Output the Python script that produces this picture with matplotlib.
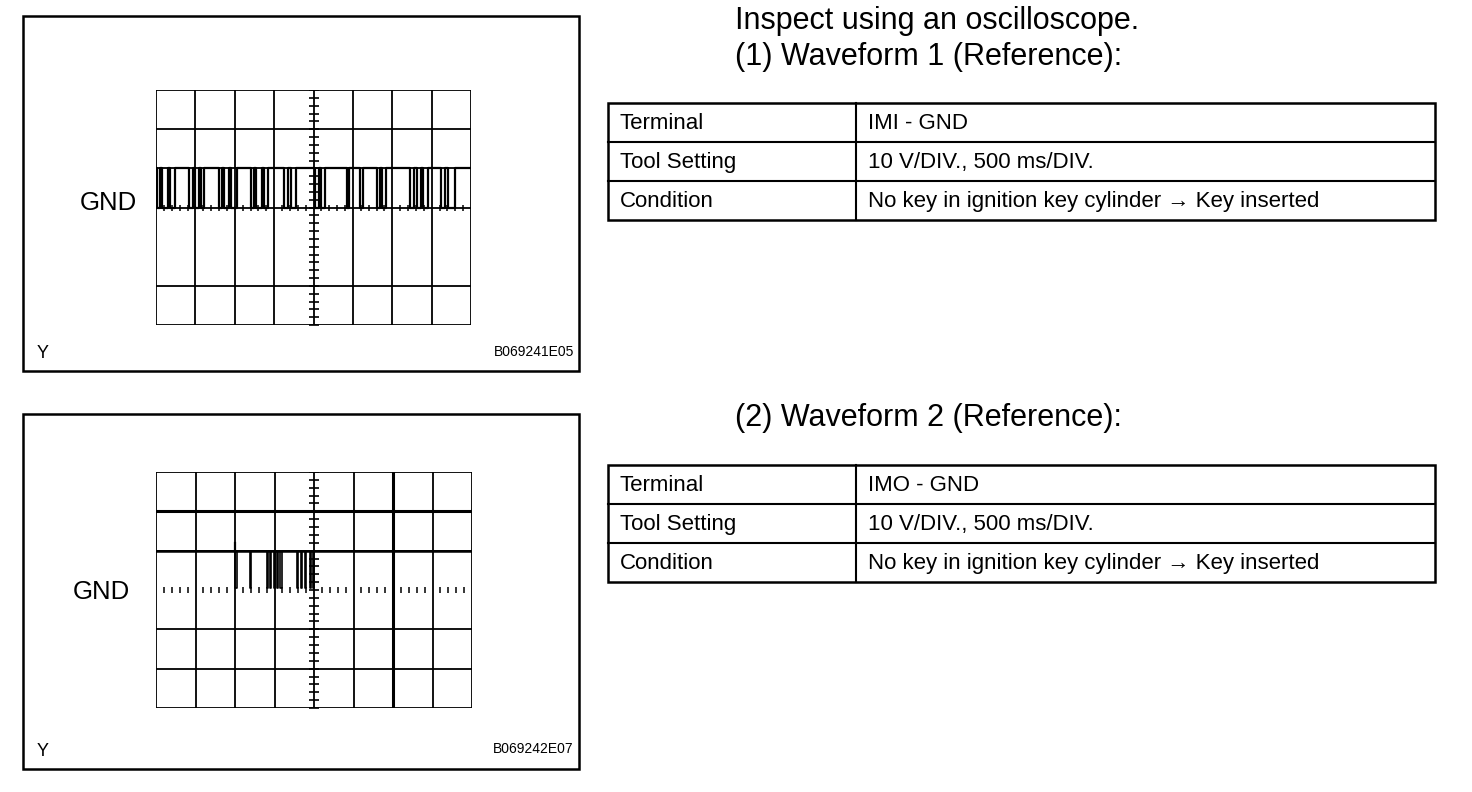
import matplotlib
matplotlib.use("Agg")
import matplotlib.pyplot as plt
from matplotlib.patches import Rectangle
import numpy as np

plt.rcParams['font.family'] = ['Liberation Sans', 'DejaVu Sans']

W, H = 1472, 792

# ---- data (time in ms, 500 ms/DIV; 10 V/DIV) ----
high_v1 = 10.0
low_v1 = 0.0
# low pulses of waveform 1 (IMI - GND), start/end in ms
w1_low_start = [10, 75, 175, 425, 500, 575, 800, 860, 950, 1210, 1275, 1375,
                1625, 1710, 2025, 2100, 2420, 2590, 2800, 2875, 3225, 3310,
                3390, 3625, 3710]
w1_low_end = [50, 150, 240, 475, 550, 610, 840, 925, 1025, 1250, 1350, 1425,
              1675, 1775, 2075, 2150, 2450, 2625, 2850, 2925, 3275, 3360,
              3450, 3675, 3800]

high_v2 = 10.0
low_v2 = 0.5
# low pulses of waveform 2 (IMO - GND)
w2_low_start = [1000, 1185, 1400, 1445, 1490, 1535, 1575, 1785, 1835, 1890,
                1945, 1985]
w2_low_end = [1020, 1205, 1415, 1458, 1500, 1548, 1590, 1800, 1848, 1905,
              1960, 2005]
w2_spike_t = 995
w2_spike_v = 12.0

terminals = ["IMI - GND", "IMO - GND"]
row_names = ["Terminal", "Tool Setting", "Condition"]
tool_setting = "10 V/DIV., 500 ms/DIV."
condition = "No key in ignition key cylinder \u2192 Key inserted"
titles = ["(1) Waveform 1 (Reference):", "(2) Waveform 2 (Reference):"]
codes = ["B069241E05", "B069242E07"]


def step_trace(starts, ends, hi, lo, t0=0, t1=4000):
    t = [t0]
    v = [hi]
    for a, b in zip(starts, ends):
        t += [a, a, b, b]
        v += [hi, lo, lo, hi]
    t.append(t1)
    v.append(hi)
    return np.array(t), np.array(v)


fig = plt.figure(figsize=(W / 100, H / 100), dpi=100)
bg = fig.add_axes([0, 0, 1, 1])
bg.set_xlim(0, W)
bg.set_ylim(H, 0)
bg.axis('off')


def scope_axes(left, top, right, bottom):
    ax = fig.add_axes([left / W, 1 - bottom / H, (right - left) / W, (bottom - top) / H])
    ax.set_xlim(0, 4000)
    ax.set_ylim(-30, 30)
    ax.axis('off')
    return ax


def draw_grid(ax, skip_rows, gnd_solid, thick_cols=(), thick_rows=()):
    for i in range(9):
        lw = 2.2 if i in thick_cols else 1.3
        ax.axvline(i * 500, color='black', lw=lw)
    for j in range(7):
        y = 30 - j * 10
        if j in skip_rows:
            continue
        if j == 3 and not gnd_solid:
            continue
        lw = 2.2 if j in thick_rows else 1.3
        ax.axhline(y, color='black', lw=lw)
    # centre axis minor ticks (0.2 div)
    ty = np.arange(-30, 30.1, 2.0)
    ax.plot(np.full_like(ty, 2000), ty, ls='none', marker='_', ms=7,
            color='black', mew=1.2)
    # ticks along GND
    tx = np.array([k * 100 for k in range(41) if k % 5 != 0])
    ax.plot(tx, np.zeros_like(tx), ls='none', marker='|', ms=5,
            color='black', mew=1.1)


# ---- panel frames ----
for top, bottom in [(16, 371), (414, 769)]:
    bg.add_patch(Rectangle((23, top), 556, bottom - top, fill=False,
                           lw=1.8, ec='black'))

# ---- scope 1 ----
ax1 = scope_axes(156, 90, 471, 325)
draw_grid(ax1, skip_rows=(4,), gnd_solid=True)
t1, v1 = step_trace(w1_low_start, w1_low_end, high_v1, low_v1)
ax1.plot(t1, v1, color='black', lw=1.6)

# ---- scope 2 ----
ax2 = scope_axes(156, 472, 472, 708)
draw_grid(ax2, skip_rows=(), gnd_solid=False, thick_cols=(6,), thick_rows=(1,))
t2, v2 = step_trace(w2_low_start, w2_low_end, high_v2, low_v2)
ax2.plot(t2, v2, color='black', lw=1.2)
ax2.axhline(high_v2, color='black', lw=1.8)
ax2.plot([w2_spike_t, w2_spike_t], [high_v2, w2_spike_v], color='black', lw=1.6)

# ---- labels on panels ----
bg.text(108, 203, "GND", ha='center', va='center', fontsize=18.5)
bg.text(101, 592, "GND", ha='center', va='center', fontsize=18.5)
for yy, code in [(354, codes[0]), (751, codes[1])]:
    bg.text(37, yy, "Y", ha='left', va='center', fontsize=13)
    bg.text(574, yy - 2, code, ha='right', va='center', fontsize=10)

# ---- text on the right ----
bg.text(735, 21, "Inspect using an oscilloscope.", ha='left', va='center',
        fontsize=22)
bg.text(735, 57, titles[0], ha='left', va='center', fontsize=22)
bg.text(735, 418, titles[1], ha='left', va='center', fontsize=22)


def draw_table(top, terminal):
    x0, x1, xm = 608, 1435, 856
    rh = 39
    values = [terminal, tool_setting, condition]
    bg.add_patch(Rectangle((x0, top), x1 - x0, 3 * rh, fill=False, lw=1.8, ec='black'))
    for r in range(1, 3):
        bg.plot([x0, x1], [top + r * rh, top + r * rh], color='black', lw=1.5)
    bg.plot([xm, xm], [top, top + 3 * rh], color='black', lw=1.5)
    for r in range(3):
        yc = top + r * rh + rh / 2 + 1
        bg.text(620, yc, row_names[r], ha='left', va='center', fontsize=16)
        bg.text(868, yc, values[r], ha='left', va='center', fontsize=16)


draw_table(103, terminals[0])
draw_table(465, terminals[1])

fig.savefig("out.png", dpi=100)
